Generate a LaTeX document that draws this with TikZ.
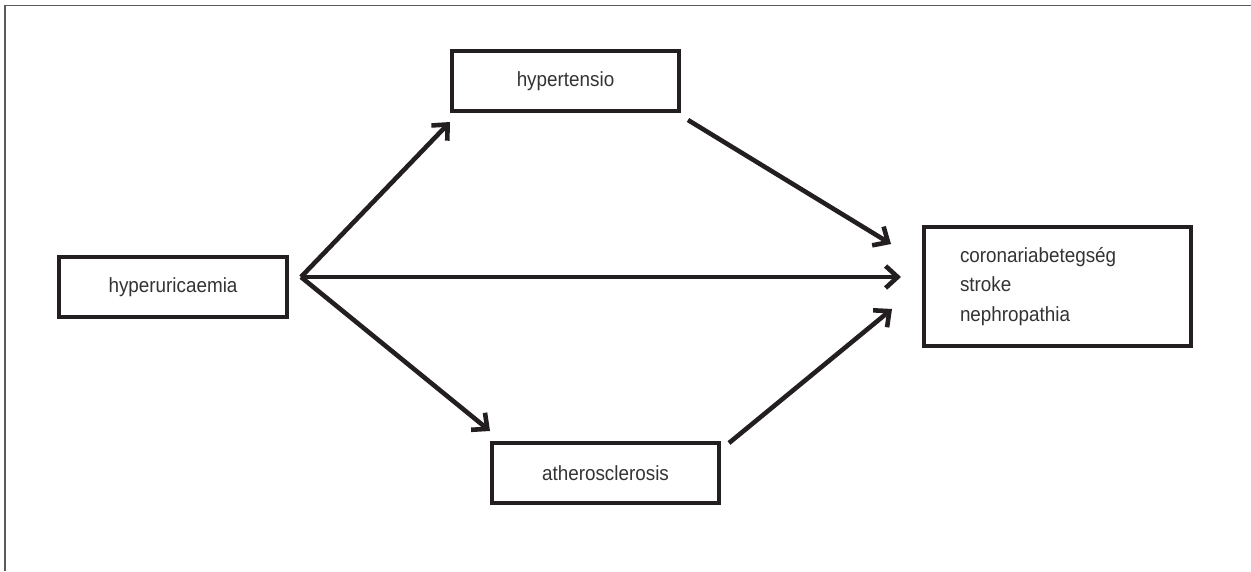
\documentclass[tikz,border=0pt]{standalone}
\usepackage{fontspec}
\setmainfont{Liberation Sans}[FakeStretch=0.92]
\usetikzlibrary{arrows.meta}
\definecolor{ink}{HTML}{231F20}
\definecolor{txt}{HTML}{333333}
\definecolor{framec}{HTML}{5A5A5A}
\tikzset{
  box/.style={draw=ink, line width=3.2pt, rectangle, inner sep=0pt,
    minimum width=227pt, minimum height=60pt, text=txt,
    font=\fontsize{20.5}{29.5}\selectfont},
  arr/.style={draw=ink, line width=4.6pt,
    -{Straight Barb[length=12pt, width=22pt, line width=4.6pt]}},
}
\begin{document}
\begin{tikzpicture}[x=1pt, y=-1pt]
\useasboundingbox (0,0) rectangle (1251,571);
\draw[framec, line width=1.8pt] (5,571) -- (5,5.5) -- (1251,5.5);

\node[box, minimum width=228pt] (hu) at (173,287) {hyperuricaemia};
\node[box] (ht) at (565.5,81) {hypertensio};
\node[box] (at) at (605.5,473) {atherosclerosis};
\node[box, minimum width=267pt, minimum height=119pt, inner xsep=36pt,
  text width=195pt, align=left] (out) at (1057.5,286.5)
  {coronariabetegség\\stroke\\nephropathia};

\coordinate (src) at (301,277);
\coordinate (htin) at (450,122);
\coordinate (atin) at (490,431);
\coordinate (outmid) at (901,277);
\coordinate (htout) at (688,120);
\coordinate (outtop) at (891,244);
\coordinate (atout) at (729,443);
\coordinate (outbot) at (892,309);

\draw[arr] (src) -- (htin);
\draw[arr] (src) -- (outmid);
\draw[arr] (src) -- (atin);
\draw[arr] (htout) -- (outtop);
\draw[arr] (atout) -- (outbot);
\end{tikzpicture}
\end{document}
